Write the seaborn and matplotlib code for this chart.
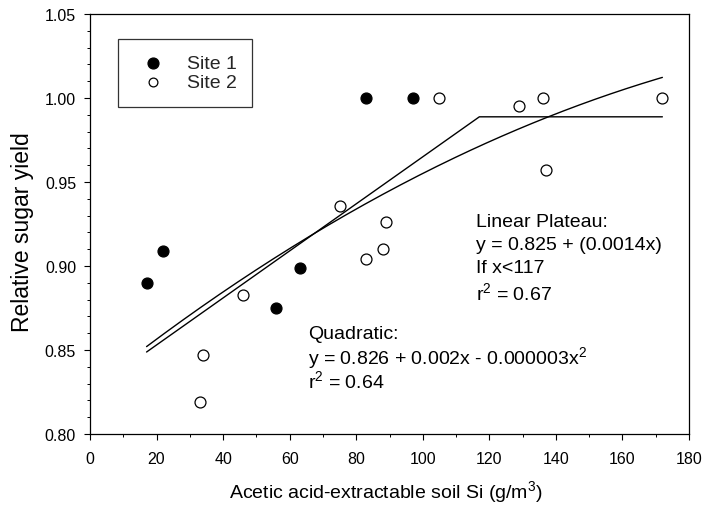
import numpy as np
import pandas as pd
import matplotlib
matplotlib.use("Agg")
import matplotlib.pyplot as plt
from matplotlib.ticker import MultipleLocator, FormatStrFormatter
import seaborn as sns

# ---- data ----
site1_x = [17, 22, 56, 63, 83, 97]
site1_y = [0.890, 0.909, 0.875, 0.899, 1.000, 1.000]
site2_x = [33, 34, 46, 75, 83, 88, 89, 105, 129, 136, 137, 172]
site2_y = [0.819, 0.847, 0.883, 0.936, 0.904, 0.910, 0.926, 1.000, 0.995, 1.000, 0.957, 1.000]

# fitted model lines (as drawn)
lp_intercept, lp_slope, lp_break = 0.825, 0.0014, 117
quad_a, quad_b, quad_c = 0.826, 0.00158, -0.00000289
fit_xmin, fit_xmax = 17, 172

x_ticks = [0, 20, 40, 60, 80, 100, 120, 140, 160, 180]
y_ticks = [0.80, 0.85, 0.90, 0.95, 1.00, 1.05]

sns.set_theme(style="white")
plt.rcParams['font.family'] = ['Liberation Sans', 'DejaVu Sans']
plt.rcParams['mathtext.default'] = 'regular'

fig = plt.figure(figsize=(7.05, 5.10), dpi=100)
ax = fig.add_axes([90/705, 75/510, 599/705, 420/510])

df1 = pd.DataFrame({"x": site1_x, "y": site1_y})
df2 = pd.DataFrame({"x": site2_x, "y": site2_y})

# model lines
lp_x = [fit_xmin, lp_break, fit_xmax]
lp_y = [lp_intercept + lp_slope * min(v, lp_break) for v in lp_x]
q_x = np.linspace(fit_xmin, fit_xmax, 200)
q_y = quad_a + quad_b * q_x + quad_c * q_x ** 2
sns.lineplot(x=lp_x, y=lp_y, ax=ax, color="black", lw=1.0, zorder=2)
sns.lineplot(x=q_x, y=q_y, ax=ax, color="black", lw=1.0, zorder=2)

sns.scatterplot(data=df1, x="x", y="y", ax=ax, s=62, color="black",
                edgecolor="black", linewidth=0.9, label="Site 1", zorder=3)
sns.scatterplot(data=df2, x="x", y="y", ax=ax, s=62, facecolor="white",
                edgecolor="black", linewidth=0.9, label="Site 2", zorder=3)

ax.set_xlim(0, 180)
ax.set_ylim(0.80, 1.05)
ax.set_xticks(x_ticks)
ax.set_yticks(y_ticks)
ax.yaxis.set_major_formatter(FormatStrFormatter('%.2f'))
ax.xaxis.set_minor_locator(MultipleLocator(10))
ax.yaxis.set_minor_locator(MultipleLocator(0.01))
ax.tick_params(axis='both', which='major', direction='out', length=4.5, width=0.8,
               colors='black', labelsize=11.5, bottom=True, left=True)
ax.tick_params(axis='both', which='minor', direction='out', length=2.2, width=0.7,
               colors='black', bottom=True, left=True)
ax.tick_params(axis='x', which='major', pad=8)
ax.tick_params(axis='y', which='major', pad=5.5)
for sp in ax.spines.values():
    sp.set_color('black')
    sp.set_linewidth(0.9)

ax.set_xlabel("Acetic acid-extractable soil Si (g/m$^3$)", fontsize=14, color='black')
ax.xaxis.set_label_coords(0.493, -0.105)
ax.set_ylabel("Relative sugar yield", fontsize=16.5, color='black')
ax.yaxis.set_label_coords(-0.0935, 0.482)

leg = ax.legend(loc='upper left', bbox_to_anchor=(0.046, 0.941), frameon=True,
                fancybox=False, edgecolor='black', fontsize=14, borderpad=0.8,
                handlelength=2.0, handletextpad=0.75, labelspacing=0.08,
                borderaxespad=0)
leg.get_frame().set_linewidth(0.9)
try:
    handles = leg.legend_handles
except AttributeError:
    handles = leg.legendHandles
handles[0].set_sizes([62])
handles[1].set_sizes([40])

txt = dict(fontsize=14, color='black', va='center', ha='left')
lp_lines = ["Linear Plateau:", "y = 0.825 + (0.0014x)", "If x<117", "r$^2$ = 0.67"]
lp_ys = [0.9265, 0.9126, 0.8990, 0.8847]
for s, yy in zip(lp_lines, lp_ys):
    ax.text(116.0, yy, s, **txt)
q_lines = ["Quadratic:", "y = 0.826 + 0.002x - 0.000003x$^2$", "r$^2$ = 0.64"]
q_ys = [0.8598, 0.8459, 0.8319]
for s, yy in zip(q_lines, q_ys):
    ax.text(65.6, yy, s, **txt)

fig.savefig("out.png", dpi=100)
